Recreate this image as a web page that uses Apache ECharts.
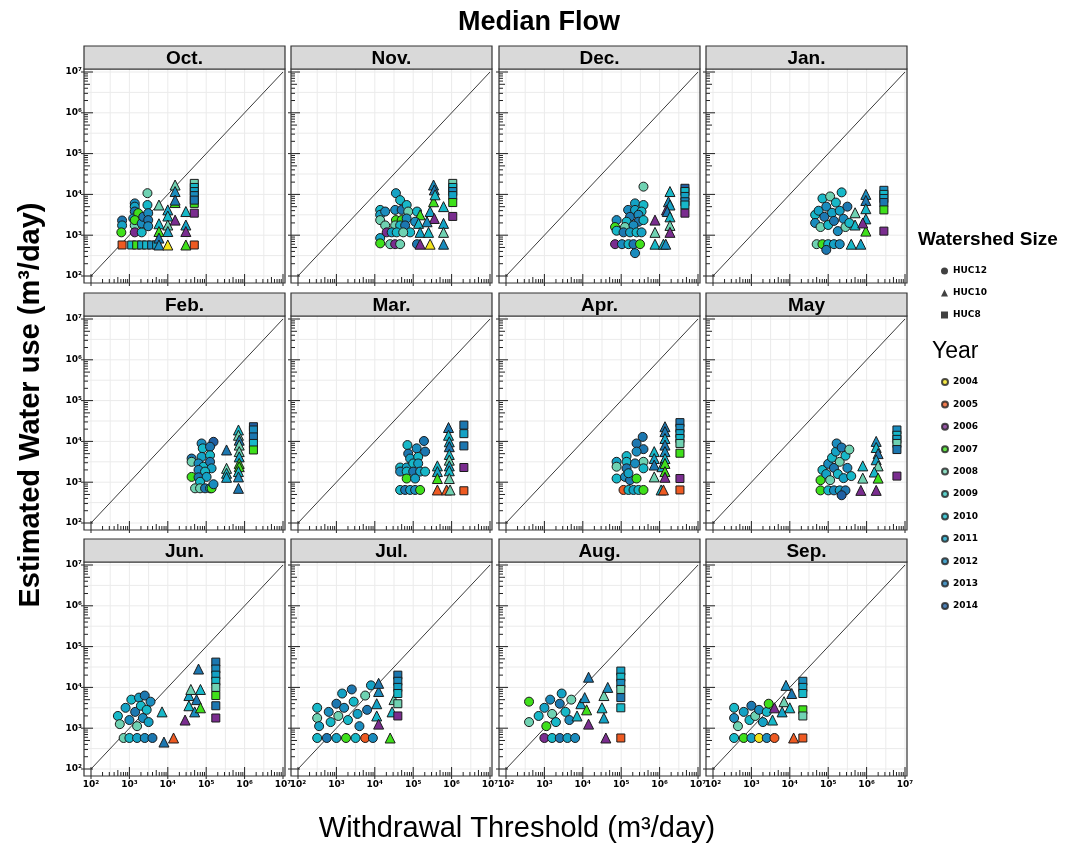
<!DOCTYPE html>
<html>
<head>
<meta charset="utf-8">
<script src="https://cdn.jsdelivr.net/npm/echarts@6/dist/echarts.min.js"></script>
<style>
  html, body { margin: 0; padding: 0; background: #fff; }
  #main { width: 1065px; height: 846px; }
</style>
</head>
<body>
<div id="main"></div>
<script>
var months = ['Oct.', 'Nov.', 'Dec.', 'Jan.', 'Feb.', 'Mar.', 'Apr.', 'May', 'Jun.', 'Jul.', 'Aug.', 'Sep.']
var years = ['2004', '2005', '2006', '2007', '2008', '2009', '2010', '2011', '2012', '2013', '2014']
var yearColors = ['#f3e41b', '#ee5a22', '#7a2d8f', '#3fe01b', '#6fd2b2', '#33c4bd', '#17b8c8', '#14a2c5', '#1a8cbe', '#1c77b0', '#1f5fa2']
var hucNames = ['HUC12', 'HUC10', 'HUC8']
var hucSymbols = ['circle', 'triangle', 'rect']
var decadeLabels = ['10²', '10³', '10⁴', '10⁵', '10⁶', '10⁷']
var decades = [2, 3, 4, 5, 6, 7]
var halfBreaks = [2, 2.5, 3, 3.5, 4, 4.5, 5, 5.5, 6, 6.5, 7]
var refLine = [2, 7]

// points per month: [log10 threshold, log10 water use, huc (0=HUC12, 1=HUC10, 2=HUC8), year - 2000]
var oct = [
  [2.81, 3.36, 0, 13], [2.81, 3.24, 0, 11], [2.79, 3.07, 0, 7],
  [3.14, 3.78, 0, 12], [3.14, 3.70, 0, 11], [3.14, 3.58, 0, 13], [3.10, 3.41, 0, 11], [3.14, 3.24, 0, 8], [3.14, 3.07, 0, 6], [3.23, 3.54, 0, 7], [3.14, 3.37, 0, 7],
  [3.32, 3.07, 0, 10], [3.32, 3.29, 0, 12], [3.36, 3.45, 0, 13],
  [3.47, 4.03, 0, 8], [3.47, 3.74, 0, 10], [3.49, 3.54, 0, 12], [3.49, 3.37, 0, 13], [3.49, 3.22, 0, 12],
  [2.81, 2.76, 2, 5], [3.06, 2.76, 2, 10], [3.19, 2.76, 2, 7], [3.32, 2.76, 2, 11], [3.45, 2.76, 2, 10], [3.58, 2.76, 2, 12], [3.71, 2.76, 2, 11],
  [3.77, 3.74, 1, 8], [3.77, 3.28, 1, 10], [3.77, 3.09, 1, 7], [3.77, 2.93, 1, 13], [3.77, 2.76, 1, 12],
  [4.0, 3.62, 1, 11], [4.0, 3.47, 1, 10], [4.0, 3.25, 1, 8], [4.0, 3.09, 1, 11], [4.0, 2.76, 1, 4],
  [4.19, 4.23, 1, 8], [4.19, 3.80, 1, 7], [4.19, 4.07, 1, 12], [4.19, 3.86, 1, 13], [4.19, 3.37, 1, 6],
  [4.47, 3.58, 1, 10], [4.47, 3.25, 1, 11], [4.47, 3.09, 1, 6], [4.47, 2.76, 1, 7],
  [4.69, 4.27, 2, 8], [4.69, 4.17, 2, 10], [4.69, 4.07, 2, 11], [4.69, 3.97, 2, 12], [4.69, 3.78, 2, 7], [4.69, 3.86, 2, 13], [4.69, 3.54, 2, 6], [4.69, 2.76, 2, 5]
]
var nov = [
  [4.14, 3.62, 0, 10], [4.14, 3.50, 0, 11], [4.27, 3.58, 0, 12], [4.14, 3.37, 0, 8], [4.27, 3.24, 0, 8], [4.14, 2.93, 0, 11], [4.14, 2.80, 0, 7],
  [4.55, 4.03, 0, 11], [4.66, 3.86, 0, 10], [4.53, 3.62, 0, 12], [4.70, 3.62, 0, 13], [4.83, 3.74, 0, 10], [4.87, 3.58, 0, 8],
  [4.55, 3.37, 0, 7], [4.70, 3.37, 0, 7], [4.83, 3.41, 0, 12], [4.53, 3.24, 0, 8], [4.66, 3.24, 0, 10], [4.79, 3.24, 0, 13], [4.92, 3.07, 0, 10],
  [4.31, 3.07, 0, 6], [4.44, 3.07, 0, 11], [4.57, 3.07, 0, 10], [4.74, 3.07, 0, 8],
  [4.40, 2.78, 0, 8], [4.53, 2.78, 0, 6], [4.66, 2.78, 0, 8],
  [5.10, 3.58, 0, 10], [5.18, 3.50, 1, 7], [5.05, 3.33, 0, 12],
  [5.14, 3.29, 1, 10], [5.18, 3.07, 1, 11], [5.10, 2.78, 0, 13], [5.18, 2.78, 1, 6], [5.44, 2.78, 1, 4], [5.79, 2.78, 1, 12],
  [5.40, 3.07, 1, 10], [5.44, 3.58, 1, 11], [5.55, 3.41, 1, 6], [5.36, 3.33, 1, 12],
  [5.53, 4.23, 1, 12], [5.55, 4.11, 1, 13], [5.53, 3.82, 1, 7], [5.57, 3.99, 1, 10],
  [5.79, 3.70, 1, 10], [5.79, 3.29, 1, 11], [5.79, 3.07, 1, 8],
  [6.03, 4.27, 2, 8], [6.03, 4.17, 2, 10], [6.03, 4.07, 2, 12], [6.03, 3.97, 2, 11], [6.03, 3.80, 2, 7], [6.03, 3.46, 2, 6]
]
var dec = [
  [5.58, 4.19, 0, 8], [5.36, 3.78, 0, 11], [5.58, 3.74, 0, 10], [5.18, 3.62, 0, 12], [5.36, 3.62, 0, 11], [5.53, 3.58, 0, 10], [5.23, 3.45, 0, 13], [5.45, 3.50, 0, 12],
  [4.88, 3.37, 0, 12], [5.14, 3.33, 0, 10], [5.45, 3.33, 0, 13], [5.58, 3.37, 0, 10], [4.84, 3.20, 0, 7], [5.10, 3.20, 0, 8], [5.32, 3.24, 0, 12],
  [4.88, 3.11, 0, 10], [5.06, 3.07, 0, 13], [5.23, 3.07, 0, 11], [5.40, 3.07, 0, 10], [5.53, 3.07, 0, 11],
  [4.84, 2.78, 0, 6], [5.02, 2.78, 0, 12], [5.19, 2.78, 0, 10], [5.32, 2.78, 0, 13], [5.49, 2.78, 0, 7], [5.36, 2.56, 0, 12],
  [5.88, 3.37, 1, 6], [5.88, 3.07, 1, 8], [5.88, 2.78, 1, 10], [6.10, 2.78, 1, 10], [6.16, 2.78, 1, 12],
  [6.27, 4.07, 1, 10], [6.23, 3.82, 1, 12], [6.27, 3.74, 1, 11], [6.18, 3.62, 1, 6], [6.20, 3.58, 1, 13], [6.27, 3.45, 1, 10], [6.27, 3.24, 1, 8], [6.27, 3.07, 1, 6],
  [6.66, 4.15, 2, 14], [6.66, 4.07, 2, 10], [6.66, 3.95, 2, 11], [6.66, 3.82, 2, 12], [6.66, 3.74, 2, 10], [6.66, 3.54, 2, 6]
]
var jan = [
  [4.66, 3.50, 0, 10], [4.66, 3.30, 0, 12], [4.75, 3.60, 0, 11], [4.80, 3.20, 0, 8], [4.85, 3.90, 0, 10], [4.90, 3.45, 0, 13], [4.95, 3.70, 0, 12],
  [5.00, 3.25, 0, 10], [5.05, 3.95, 0, 8], [5.10, 3.55, 0, 11], [5.15, 3.35, 0, 13], [5.20, 3.80, 0, 10], [5.25, 3.10, 0, 12], [5.30, 3.60, 0, 11],
  [5.35, 4.05, 0, 10], [5.40, 3.40, 0, 12], [5.45, 3.20, 0, 8], [5.50, 3.70, 0, 13], [5.55, 3.30, 0, 10],
  [4.70, 2.78, 0, 8], [4.85, 2.78, 0, 7], [5.00, 2.78, 0, 10], [5.15, 2.78, 0, 11], [5.30, 2.78, 0, 12], [4.95, 2.64, 0, 13],
  [5.60, 2.78, 1, 10], [5.85, 2.78, 1, 11], [5.70, 3.25, 1, 10], [5.70, 3.55, 1, 8], [5.98, 4.00, 1, 12], [5.98, 3.85, 1, 13], [5.98, 3.65, 1, 10],
  [5.98, 3.40, 1, 11], [5.98, 3.10, 1, 7], [5.90, 3.30, 1, 6],
  [6.45, 4.10, 2, 12], [6.45, 4.00, 2, 10], [6.45, 3.90, 2, 11], [6.45, 3.80, 2, 13], [6.45, 3.62, 2, 7], [6.45, 3.10, 2, 6]
]
var feb = [
  [4.88, 3.95, 0, 12], [5.19, 3.99, 0, 14], [4.91, 3.83, 0, 10], [5.10, 3.87, 0, 13], [4.62, 3.58, 0, 13], [4.62, 3.50, 0, 8], [4.88, 3.62, 0, 11],
  [5.10, 3.66, 0, 10], [4.80, 3.46, 0, 12], [4.93, 3.38, 0, 10], [5.10, 3.50, 0, 13], [5.14, 3.34, 0, 11], [4.80, 3.30, 0, 12], [4.97, 3.26, 0, 10],
  [4.62, 3.13, 0, 7], [4.80, 3.12, 0, 13], [5.01, 3.13, 0, 11], [4.84, 3.01, 0, 10],
  [4.71, 2.85, 0, 8], [4.84, 2.85, 0, 8], [4.97, 2.85, 0, 13], [5.10, 2.85, 0, 11], [5.14, 2.85, 0, 7], [5.19, 2.95, 0, 12],
  [5.53, 3.79, 1, 13], [5.53, 3.34, 1, 8], [5.53, 3.22, 1, 10], [5.53, 3.12, 1, 11],
  [5.84, 4.28, 1, 10], [5.84, 4.15, 1, 8], [5.86, 4.03, 1, 13], [5.86, 3.91, 1, 8], [5.86, 3.75, 1, 8], [5.86, 3.62, 1, 11], [5.86, 3.46, 1, 7],
  [5.86, 3.38, 1, 7], [5.84, 3.26, 1, 10], [5.84, 3.13, 1, 12], [5.84, 2.85, 1, 13],
  [6.23, 4.36, 2, 14], [6.23, 4.28, 2, 12], [6.23, 4.11, 2, 13], [6.23, 3.95, 2, 10], [6.23, 3.79, 2, 7]
]
var mar = [
  [4.85, 3.91, 0, 10], [5.28, 4.01, 0, 13], [4.87, 3.70, 0, 13], [5.09, 3.83, 0, 12], [5.31, 3.75, 0, 13], [4.92, 3.58, 0, 11], [5.13, 3.62, 0, 10],
  [4.66, 3.36, 0, 10], [4.83, 3.36, 0, 11], [5.00, 3.46, 0, 10], [5.13, 3.46, 0, 11], [4.66, 3.26, 0, 12], [4.83, 3.26, 0, 10], [5.00, 3.26, 0, 13],
  [5.18, 3.26, 0, 11], [5.31, 3.26, 0, 10], [4.83, 3.09, 0, 7], [5.05, 3.09, 0, 11],
  [4.66, 2.81, 0, 10], [4.79, 2.81, 0, 13], [4.92, 2.81, 0, 11], [5.05, 2.81, 0, 12], [5.18, 2.81, 0, 7],
  [5.63, 3.40, 1, 10], [5.63, 3.26, 1, 11], [5.63, 3.09, 1, 7], [5.63, 2.81, 1, 5],
  [5.92, 4.34, 1, 13], [5.92, 4.15, 1, 10], [5.94, 3.99, 1, 11], [5.94, 3.87, 1, 13], [5.94, 3.68, 1, 10], [5.94, 3.54, 1, 8], [5.94, 3.40, 1, 11],
  [5.94, 3.28, 1, 10], [5.94, 3.09, 1, 8], [5.87, 2.81, 1, 5], [5.96, 2.81, 1, 8],
  [6.32, 4.40, 2, 13], [6.32, 4.19, 2, 11], [6.32, 3.89, 2, 13], [6.32, 3.36, 2, 6], [6.32, 2.79, 2, 5]
]
var apr = [
  [5.56, 4.11, 0, 13], [5.40, 3.95, 0, 13], [5.58, 3.81, 0, 13], [5.40, 3.75, 0, 12], [5.14, 3.64, 0, 10], [5.58, 3.50, 0, 8], [4.88, 3.50, 0, 11],
  [5.14, 3.50, 0, 10], [5.36, 3.46, 0, 12], [4.88, 3.38, 0, 8], [5.14, 3.34, 0, 13], [5.58, 3.34, 0, 10], [4.88, 3.09, 0, 10], [5.10, 3.13, 0, 12],
  [5.23, 3.05, 0, 13], [5.40, 3.09, 0, 7], [5.19, 3.22, 0, 11],
  [5.06, 2.81, 0, 5], [5.19, 2.81, 0, 10], [5.32, 2.81, 0, 11], [5.45, 2.81, 0, 10], [5.58, 2.81, 0, 7],
  [5.86, 3.75, 1, 10], [5.86, 3.58, 1, 11], [5.86, 3.42, 1, 13], [5.86, 3.13, 1, 8], [6.04, 2.81, 1, 10], [6.10, 2.81, 1, 5],
  [6.14, 4.36, 1, 13], [6.14, 4.24, 1, 13], [6.14, 4.07, 1, 11], [6.14, 3.91, 1, 13], [6.14, 3.75, 1, 12], [6.14, 3.58, 1, 10], [6.06, 3.38, 1, 11],
  [6.14, 3.46, 1, 7], [6.14, 3.26, 1, 7], [6.14, 3.12, 1, 6],
  [6.53, 4.46, 2, 13], [6.53, 4.32, 2, 12], [6.53, 4.19, 2, 11], [6.53, 4.07, 2, 10], [6.53, 3.95, 2, 8], [6.53, 3.71, 2, 7], [6.53, 3.09, 2, 6], [6.53, 2.81, 2, 5]
]
var may = [
  [4.80, 3.05, 0, 7], [4.85, 3.30, 0, 10], [4.95, 3.20, 0, 11], [5.00, 3.45, 0, 12], [5.05, 3.05, 0, 8], [5.10, 3.60, 0, 10], [5.15, 3.35, 0, 13],
  [5.20, 3.75, 0, 11], [5.22, 3.95, 0, 12], [5.25, 3.20, 0, 10], [5.30, 3.50, 0, 8], [5.35, 3.85, 0, 13], [5.40, 3.10, 0, 11], [5.45, 3.65, 0, 10],
  [5.50, 3.35, 0, 12], [5.55, 3.80, 0, 8], [5.60, 3.15, 0, 10],
  [4.80, 2.80, 0, 7], [5.00, 2.80, 0, 10], [5.15, 2.80, 0, 12], [5.30, 2.80, 0, 11], [5.45, 2.80, 0, 13], [5.35, 2.68, 0, 14],
  [5.90, 3.40, 1, 10], [5.90, 3.10, 1, 8], [5.85, 2.80, 1, 6], [6.25, 4.00, 1, 12], [6.25, 3.85, 1, 10], [6.30, 3.70, 1, 13], [6.25, 3.55, 1, 11],
  [6.30, 3.40, 1, 8], [6.20, 3.25, 1, 10], [6.30, 3.10, 1, 7], [6.25, 2.80, 1, 6],
  [6.79, 4.28, 2, 12], [6.79, 4.15, 2, 10], [6.79, 4.05, 2, 11], [6.79, 3.95, 2, 8], [6.79, 3.80, 2, 13], [6.79, 3.15, 2, 6]
]
var jun = [
  [2.70, 3.30, 0, 10], [2.75, 3.10, 0, 8], [2.90, 3.50, 0, 11], [3.00, 3.20, 0, 12], [3.05, 3.70, 0, 10], [3.15, 3.40, 0, 13], [3.20, 3.05, 0, 8],
  [3.25, 3.75, 0, 11], [3.30, 3.55, 0, 10], [3.35, 3.25, 0, 12], [3.40, 3.80, 0, 13], [3.45, 3.45, 0, 10], [3.50, 3.15, 0, 11], [3.55, 3.65, 0, 12],
  [2.85, 2.76, 0, 8], [3.00, 2.76, 0, 10], [3.20, 2.76, 0, 11], [3.40, 2.76, 0, 12], [3.60, 2.76, 0, 13],
  [3.85, 3.40, 1, 10], [3.90, 2.66, 1, 13], [4.15, 2.76, 1, 5], [4.45, 3.20, 1, 6], [4.55, 3.55, 1, 10], [4.55, 3.80, 1, 11], [4.60, 3.95, 1, 8],
  [4.70, 3.40, 1, 12], [4.75, 3.70, 1, 13], [4.80, 4.45, 1, 13], [4.85, 3.95, 1, 10], [4.85, 3.50, 1, 7],
  [5.25, 4.62, 2, 13], [5.25, 4.45, 2, 12], [5.25, 4.30, 2, 11], [5.25, 4.15, 2, 10], [5.25, 4.00, 2, 8], [5.25, 3.80, 2, 7], [5.25, 3.55, 2, 13], [5.25, 3.25, 2, 6]
]
var jul = [
  [2.50, 3.50, 0, 10], [2.50, 3.25, 0, 8], [2.55, 3.05, 0, 11], [2.80, 3.40, 0, 12], [2.85, 3.15, 0, 10], [3.00, 3.60, 0, 13], [3.05, 3.30, 0, 8],
  [3.15, 3.85, 0, 11], [3.20, 3.50, 0, 12], [3.30, 3.20, 0, 10], [3.40, 3.95, 0, 13], [3.45, 3.65, 0, 10], [3.55, 3.35, 0, 11], [3.60, 3.05, 0, 12],
  [3.75, 3.80, 0, 8], [3.80, 3.45, 0, 13], [3.90, 4.05, 0, 11],
  [2.50, 2.76, 0, 10], [2.75, 2.76, 0, 13], [3.00, 2.76, 0, 11], [3.25, 2.76, 0, 7], [3.50, 2.76, 0, 10], [3.75, 2.76, 0, 5], [3.95, 2.76, 0, 12],
  [4.05, 3.30, 1, 10], [4.05, 3.60, 1, 11], [4.10, 3.90, 1, 12], [4.10, 4.10, 1, 13], [4.10, 3.10, 1, 6], [4.40, 2.76, 1, 7], [4.45, 3.40, 1, 10], [4.50, 3.70, 1, 8],
  [4.60, 4.30, 2, 13], [4.60, 4.15, 2, 12], [4.60, 4.00, 2, 11], [4.60, 3.85, 2, 10], [4.60, 3.60, 2, 8], [4.60, 3.30, 2, 6]
]
var aug = [
  [2.60, 3.65, 0, 7], [2.60, 3.15, 0, 8], [2.85, 3.30, 0, 10], [3.00, 3.50, 0, 11], [3.05, 3.05, 0, 7], [3.15, 3.70, 0, 12], [3.20, 3.35, 0, 8],
  [3.30, 3.15, 0, 10], [3.40, 3.60, 0, 13], [3.45, 3.85, 0, 11], [3.55, 3.40, 0, 10], [3.65, 3.20, 0, 12], [3.70, 3.70, 0, 8],
  [3.00, 2.76, 0, 6], [3.20, 2.76, 0, 10], [3.40, 2.76, 0, 13], [3.60, 2.76, 0, 11], [3.80, 2.76, 0, 12],
  [3.85, 3.30, 1, 10], [3.95, 3.60, 1, 11], [4.05, 3.75, 1, 12], [4.10, 3.45, 1, 7], [4.15, 4.25, 1, 13], [4.15, 3.10, 1, 6], [4.50, 3.50, 1, 10],
  [4.55, 3.80, 1, 8], [4.55, 3.25, 1, 11], [4.60, 2.76, 1, 6], [4.65, 4.00, 1, 12],
  [4.99, 4.40, 2, 11], [4.99, 4.25, 2, 10], [4.99, 4.10, 2, 12], [4.99, 3.95, 2, 8], [4.99, 3.75, 2, 13], [4.99, 3.50, 2, 10], [4.99, 2.76, 2, 5]
]
var sep = [
  [2.55, 3.50, 0, 10], [2.55, 3.25, 0, 12], [2.65, 3.05, 0, 8], [2.80, 3.40, 0, 11], [2.95, 3.20, 0, 10], [3.00, 3.55, 0, 13], [3.10, 3.30, 0, 8],
  [3.20, 3.45, 0, 12], [3.30, 3.15, 0, 11], [3.40, 3.40, 0, 10], [3.45, 3.60, 0, 7],
  [2.55, 2.76, 0, 10], [2.80, 2.76, 0, 7], [3.00, 2.76, 0, 11], [3.20, 2.76, 0, 4], [3.40, 2.76, 0, 12], [3.60, 2.76, 0, 5],
  [3.55, 3.20, 1, 10], [3.60, 3.50, 1, 6], [3.80, 3.40, 1, 11], [3.85, 3.65, 1, 8], [3.90, 4.05, 1, 12], [4.00, 3.50, 1, 10], [4.05, 3.85, 1, 13], [4.10, 2.76, 1, 5],
  [4.34, 4.15, 2, 12], [4.34, 4.00, 2, 11], [4.34, 3.85, 2, 10], [4.34, 3.45, 2, 7], [4.34, 3.30, 2, 8], [4.34, 2.76, 2, 5]
]
var panels = [oct, nov, dec, jan, feb, mar, apr, may, jun, jul, aug, sep]

// layout (pixels)
var colX = [84, 291, 499, 706]
var rowY = [69, 316, 562]
var frameW = 201, frameH = 214, stripH = 23
var padL = 7, padR = 2, padT = 3, padB = 7
var symSizes = [9, 10, 8]
var labelFont = 'DejaVu Sans'

// log ticks: 1..9 x 10^n
var logTicks = []
for (var d = 2; d <= 7; d++) {
  for (var k = 1; k <= 9; k++) {
    if (d === 7 && k > 1) break
    logTicks.push([d + Math.log10(k), d + Math.log10(k), k === 1 ? 9 : (k === 5 ? 6 : 4)])
  }
}

function decadeFmt(v) {
  var i = decades.indexOf(Math.round(v))
  return i >= 0 ? decadeLabels[i] : ''
}

var grids = [], xAxes = [], yAxes = [], series = [], graphics = []

panels.forEach(function (pts, i) {
  var r = Math.floor(i / 4), c = i % 4
  var fx = colX[c], fy = rowY[r]
  grids.push({ left: fx + padL, top: fy + padT, width: frameW - padL - padR, height: frameH - padT - padB })
  var lab = { fontFamily: labelFont, fontWeight: 'bold', fontSize: 9, color: '#000', formatter: decadeFmt }
  xAxes.push({
    gridIndex: i, type: 'value', min: 2, max: 7, interval: 1,
    axisLine: { show: false }, axisTick: { show: false }, splitLine: { show: false },
    axisLabel: Object.assign({ show: r === 2, margin: 11 }, lab)
  })
  yAxes.push({
    gridIndex: i, type: 'value', min: 2, max: 7, interval: 1,
    axisLine: { show: false }, axisTick: { show: false }, splitLine: { show: false },
    axisLabel: Object.assign({ show: c === 0, margin: 9 }, lab)
  })

  // panel grid lines, stretched to the frame
  series.push({
    type: 'custom', xAxisIndex: i, yAxisIndex: i, silent: true, z: 1, clip: false,
    data: halfBreaks.map(function (v) { return [v, v] }),
    renderItem: function (params, api) {
      var cs = params.coordSys
      var p = api.coord([api.value(0), api.value(1)])
      var st = { stroke: '#ebebeb', lineWidth: 1 }
      return {
        type: 'group',
        children: [
          { type: 'line', shape: { x1: p[0], y1: cs.y - padT, x2: p[0], y2: cs.y + cs.height + padB }, style: st },
          { type: 'line', shape: { x1: cs.x - padL, y1: p[1], x2: cs.x + cs.width + padR, y2: p[1] }, style: st }
        ]
      }
    }
  })

  // 1:1 line
  series.push({
    type: 'line', xAxisIndex: i, yAxisIndex: i, silent: true, z: 2,
    symbol: 'none', lineStyle: { color: '#3a3a3a', width: 1 },
    data: refLine.map(function (v) { return [v, v] })
  })

  series.push({
    type: 'scatter', xAxisIndex: i, yAxisIndex: i, z: 3,
    itemStyle: { borderColor: '#1a1a1a', borderWidth: 1, opacity: 1 },
    data: pts.map(function (p) {
      return {
        value: [p[0], p[1]],
        symbol: hucSymbols[p[2]],
        symbolSize: symSizes[p[2]],
        itemStyle: { color: yearColors[p[3] - 4] }
      }
    })
  })

  // log ticks along left and bottom edge
  series.push({
    type: 'custom', xAxisIndex: i, yAxisIndex: i, silent: true, z: 5, clip: false,
    data: logTicks,
    renderItem: function (params, api) {
      var cs = params.coordSys
      var p = api.coord([api.value(0), api.value(1)])
      var len = api.value(2)
      var out = len === 9 ? 3 : 0
      var x0 = cs.x - padL, y1 = cs.y + cs.height + padB
      var st = { stroke: '#222', lineWidth: 1 }
      return {
        type: 'group',
        children: [
          { type: 'line', shape: { x1: p[0], y1: y1 + out, x2: p[0], y2: y1 - len }, style: st },
          { type: 'line', shape: { x1: x0 - out, y1: p[1], x2: x0 + len, y2: p[1] }, style: st }
        ]
      }
    }
  })

  graphics.push({
    type: 'rect', z: 100, silent: true,
    shape: { x: fx, y: fy, width: frameW, height: frameH },
    style: { fill: 'none', stroke: '#333', lineWidth: 1.2 }
  })
  graphics.push({
    type: 'rect', z: 100, silent: true,
    shape: { x: fx, y: fy - stripH, width: frameW, height: stripH },
    style: { fill: '#d9d9d9', stroke: '#333', lineWidth: 1.2 }
  })
  graphics.push({
    type: 'text', z: 101, silent: true, x: fx + frameW / 2, y: fy - stripH / 2 + 1,
    style: { text: months[i], fill: '#000', font: 'bold 19px "Liberation Sans"', align: 'center', verticalAlign: 'middle' }
  })
})

// legend-only series
hucNames.forEach(function (n) {
  series.push({ type: 'scatter', name: n, data: [], itemStyle: { color: '#111' } })
})
years.forEach(function (y, k) {
  series.push({ type: 'scatter', name: y, data: [], itemStyle: { color: yearColors[k], borderColor: '#222', borderWidth: 0.8 } })
})

graphics.push(
  { type: 'text', x: 539, y: 23, style: { text: 'Median Flow', fill: '#000', font: 'bold 27px "Liberation Sans"', align: 'center', verticalAlign: 'middle' } },
  { type: 'text', x: 517, y: 829, style: { text: 'Withdrawal Threshold (m³/day)', fill: '#000', font: '29px "Liberation Sans"', align: 'center', verticalAlign: 'middle' } },
  { type: 'text', x: 31, y: 405, rotation: Math.PI / 2, style: { text: 'Estimated Water use (m³/day)', fill: '#000', font: 'bold 29px "Liberation Sans"', align: 'center', verticalAlign: 'middle' } },
  { type: 'text', x: 918, y: 240, style: { text: 'Watershed Size', fill: '#000', font: 'bold 19px "Liberation Sans"', align: 'left', verticalAlign: 'middle' } },
  { type: 'text', x: 932, y: 352, style: { text: 'Year', fill: '#000', font: '23px "Liberation Sans"', align: 'left', verticalAlign: 'middle' } }
)

var legendText = { fontFamily: labelFont, fontWeight: 'bold', fontSize: 9, color: '#000', lineHeight: 12 }

var option = {
  animation: false,
  backgroundColor: '#fff',
  grid: grids,
  xAxis: xAxes,
  yAxis: yAxes,
  series: series,
  graphic: graphics,
  legend: [
    {
      orient: 'vertical', left: 936, top: 260, itemWidth: 7, itemHeight: 7, itemGap: 10, selectedMode: false,
      data: hucNames.map(function (n, k) { return { name: n, icon: hucSymbols[k] } }),
      textStyle: legendText
    },
    {
      orient: 'vertical', left: 936, top: 371, itemWidth: 6, itemHeight: 6, itemGap: 10.4, selectedMode: false,
      data: years.map(function (y) { return { name: y, icon: 'circle' } }),
      textStyle: legendText
    }
  ]
}

var chart = echarts.init(document.getElementById('main'))
chart.setOption(option)
</script>
</body>
</html>
